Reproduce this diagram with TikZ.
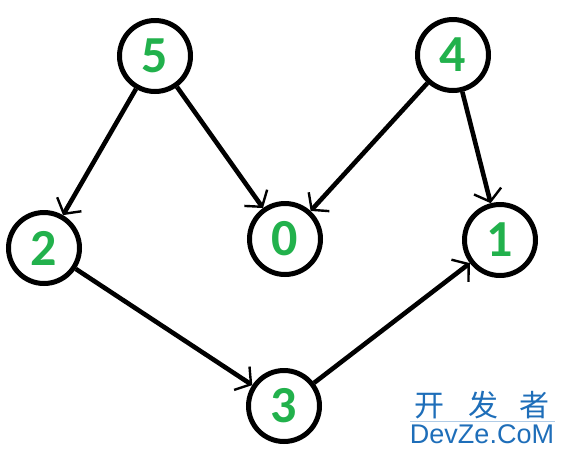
\documentclass[tikz,border=0pt]{standalone}
\usepackage{fontspec}
\setmainfont{Carlito}
\newfontfamily\cjkfont{Noto Sans CJK SC}
\newfontfamily\wmfont{Liberation Sans}
\usetikzlibrary{arrows.meta}

\definecolor{vgreen}{RGB}{34,177,76}
\definecolor{wmblue}{RGB}{30,110,185}

\tikzset{
  vertex/.style={circle, draw, line width=5pt, minimum size=71pt, inner sep=0pt,
    text=vgreen, font=\fontsize{52}{52}\selectfont\bfseries},
  edge/.style={line width=4.6pt, -{Straight Barb[length=11pt, width=28pt, line width=2.4pt]}, shorten >=0pt}
}

\begin{document}
\begin{tikzpicture}[x=1pt, y=-1pt]
      \useasboundingbox (0,0) rectangle (565,456);

      \node[vertex] (v5) at (155,56) {5};
      \node[vertex] (v4) at (453,55) {4};
      \node[vertex] (v2) at (44,248) {2};
      \node[vertex] (v0) at (285,239) {0};
      \node[vertex] (v1) at (500,240) {1};
      \node[vertex] (v3) at (284,406) {3};

      \draw[edge] (v5) -- (v2);
      \draw[edge] (v5) -- (v0);
      \draw[edge] (v4) -- (v0);
      \draw[edge] (v4) -- (v1);
      \draw[edge] (v2) -- (v3);
      \draw[edge] (v3) -- (v1);

      % watermark
      \node[text=wmblue, font=\cjkfont\fontsize{30}{30}\selectfont] (wm1) at (482,405) {开\hspace{24pt}发\hspace{22pt}者};
      \draw[wmblue!35, line width=1pt] (410,421) -- (555,421);
      \node[text=wmblue, font=\wmfont\fontsize{27}{27}\selectfont] (wm2) at (482,434) {DevZe.CoM};
    \end{tikzpicture}
\end{document}
